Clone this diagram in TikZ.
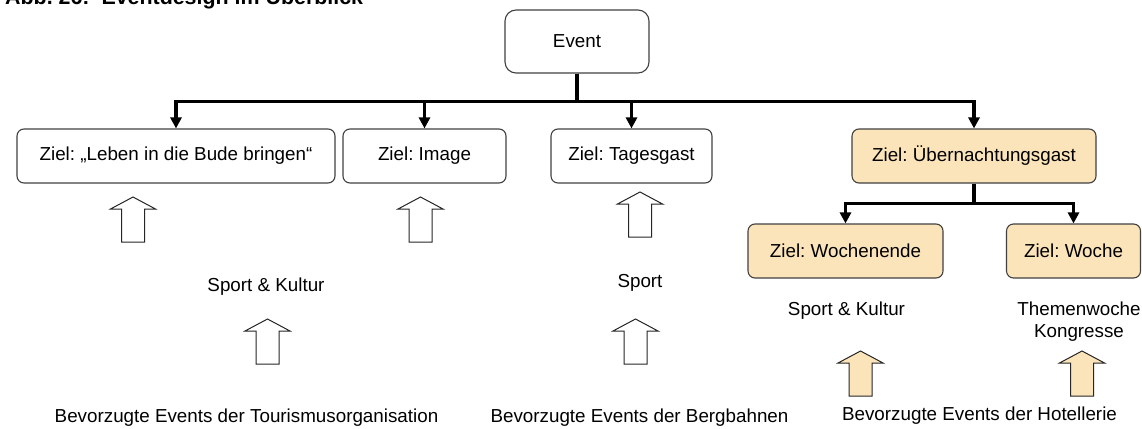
\documentclass[tikz,border=0pt]{standalone}
\usepackage{fontspec}
\setmainfont{Liberation Sans}
\usetikzlibrary{positioning,arrows.meta}
\frenchspacing

\definecolor{gastfill}{RGB}{252,228,186}
\tikzset{
  ziel/.style={draw=black!75,line width=1.1pt,rounded corners=7pt,minimum height=54pt,inner sep=0pt},
  gast/.style={ziel,fill=gastfill},
  txt/.style={inner sep=0pt},
  conn/.style={line width=3.2pt,-{Triangle[length=11pt,width=11pt]}},
  hohlpfeil/.pic={\draw[line width=1pt,draw=black!85,pic actions] (-11.5,0) -- (-11.5,-33) -- (-22.5,-33) -- (0,-45) -- (22.5,-33) -- (11.5,-33) -- (11.5,0) -- cycle;}
}

\begin{document}
\begin{tikzpicture}[x=1pt,y=-1pt,font=\fontsize{18.8}{22}\selectfont]
  \useasboundingbox (0,0) rectangle (1142,428);
  \node[anchor=base west,inner sep=0pt,font=\fontsize{21.4}{24}\selectfont\bfseries] (titel) at (5,5) {Abb. 26:~ Eventdesign im Überblick};

  % Ziele
  \node[ziel,minimum width=144pt,minimum height=63pt,rounded corners=11pt] (event) at (577,41.5) {Event};
  \node[ziel,minimum width=318pt] (leben) at (176,156) {Ziel: „Leben in die Bude bringen“};
  \node[ziel,minimum width=163pt] (image) at (424.5,156) {Ziel: Image};
  \node[ziel,minimum width=161pt] (tages) at (631.5,156) {Ziel: Tagesgast};
  \node[gast,minimum width=244pt] (uebern) at (974,156) {Ziel: Übernachtungsgast};
  \node[gast,minimum width=195pt] (wochenende) at (845.5,251) {Ziel: Wochenende};
  \node[gast,minimum width=134pt] (woche) at (1073.5,251) {Ziel: Woche};

  \foreach \z in {leben,image,tages,uebern}
    \draw[conn] (event.south) -- ++(0,28) -| (\z.north);
  \foreach \z in {wochenende,woche}
    \draw[conn] (uebern.south) -- ++(0,20) -| (\z.north);

  % Events
  \node[txt] (sk1) at (266,287) {Sport \& Kultur};
  \node[txt] (sport) at (640,283) {Sport};
  \node[txt] (sk2) at (846.5,311) {Sport \& Kultur};
  \node[txt,align=center] (themen) at (1079,322) {Themenwoche\\Kongresse};
  \node[txt] (tour) at (246.5,418) {Bevorzugte Events der Tourismusorganisation};
  \node[txt] (berg) at (639.5,418) {Bevorzugte Events der Bergbahnen};
  \node[txt] (hotel) at (979.5,416) {Bevorzugte Events der Hotellerie};

  \pic[fill=white] at (133,242) {hohlpfeil};
  \pic[fill=white] at (420.5,242) {hohlpfeil};
  \pic[fill=white] at (640,237) {hohlpfeil};
  \pic[fill=white] at (267.5,364) {hohlpfeil};
  \pic[fill=white] at (635.5,364) {hohlpfeil};
  \pic[fill=gastfill] at (860.5,396) {hohlpfeil};
  \pic[fill=gastfill] at (1082,396) {hohlpfeil};
\end{tikzpicture}
\end{document}
